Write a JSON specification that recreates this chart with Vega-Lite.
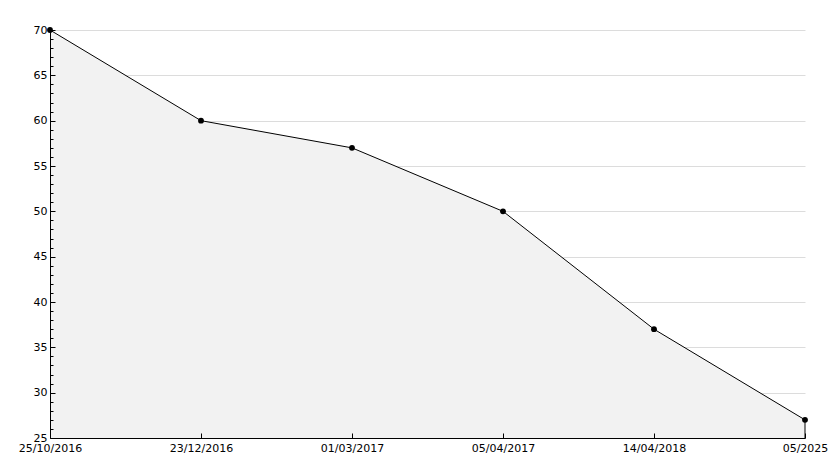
{
  "$schema": "https://vega.github.io/schema/vega-lite/v6.json",
  "autosize": "none",
  "width": 755,
  "height": 408,
  "padding": {"left": 50, "top": 30, "right": 29, "bottom": 30},
  "background": "white",
  "config": {"view": {"stroke": null}, "font": "DejaVu Sans"},
  "data": {"values": [
    {"date": "25/10/2016", "value": 70},
    {"date": "23/12/2016", "value": 60},
    {"date": "01/03/2017", "value": 57},
    {"date": "05/04/2017", "value": 50},
    {"date": "14/04/2018", "value": 37},
    {"date": "05/2025", "value": 27}
  ]},
  "encoding": {
    "x": {"field": "date", "type": "ordinal", "sort": null,
      "scale": {"type": "point", "padding": 0},
      "axis": {"title": null, "labelAngle": 0, "labelColor": "black", "labelFontSize": 11, "labelPadding": 9, "zindex": 1,
        "domainColor": "black", "domainWidth": 1, "tickColor": "black", "tickSize": -5, "grid": false}}
  },
  "resolve": {"axis": {"y": "independent"}},
  "layer": [
    {"mark": {"type": "area", "color": "#f2f2f2", "opacity": 1},
     "encoding": {
       "y": {"field": "value", "type": "quantitative", "stack": null,
         "scale": {"domain": [25, 70], "nice": false, "zero": false},
         "axis": {"title": null, "orient": "left", "zindex": 0, "values": [30,35,40,45,50,55,60,65,70],
           "domain": false, "ticks": false, "labels": false,
           "grid": true, "gridColor": "#dcdcdc"}},
       "y2": {"datum": 25}}},
    {"mark": {"type": "line", "color": "black", "strokeWidth": 1},
     "encoding": {
       "y": {"field": "value", "type": "quantitative",
         "scale": {"domain": [25, 70], "nice": false, "zero": false},
         "axis": {"title": null, "orient": "left", "zindex": 1, "values": [25,26,27,28,29,30,31,32,33,34,35,36,37,38,39,40,41,42,43,44,45,46,47,48,49,50,51,52,53,54,55,56,57,58,59,60,61,62,63,64,65,66,67,68,69,70],
           "labelExpr": "datum.value % 5 === 0 ? datum.label : ''",
           "labelColor": "black", "labelFontSize": 11, "labelPadding": 8,
           "domainColor": "black", "tickColor": "black",
           "tickSize": {"condition": {"test": "datum.value % 5 === 0", "value": -5}, "value": -3},
           "grid": false}}}},
    {"transform": [{"filter": "datum.date === '05/2025'"}],
     "mark": {"type": "rule", "color": "black", "strokeWidth": 1},
     "encoding": {"y": {"field": "value", "type": "quantitative", "scale": {"domain": [25, 70], "nice": false, "zero": false}, "axis": null}, "y2": {"datum": 25}}},
    {"mark": {"type": "point", "filled": true, "color": "black", "opacity": 1, "size": 34, "shape": "circle"},
     "encoding": {"y": {"field": "value", "type": "quantitative", "scale": {"domain": [25, 70], "nice": false, "zero": false}, "axis": null}}}
  ]
}
